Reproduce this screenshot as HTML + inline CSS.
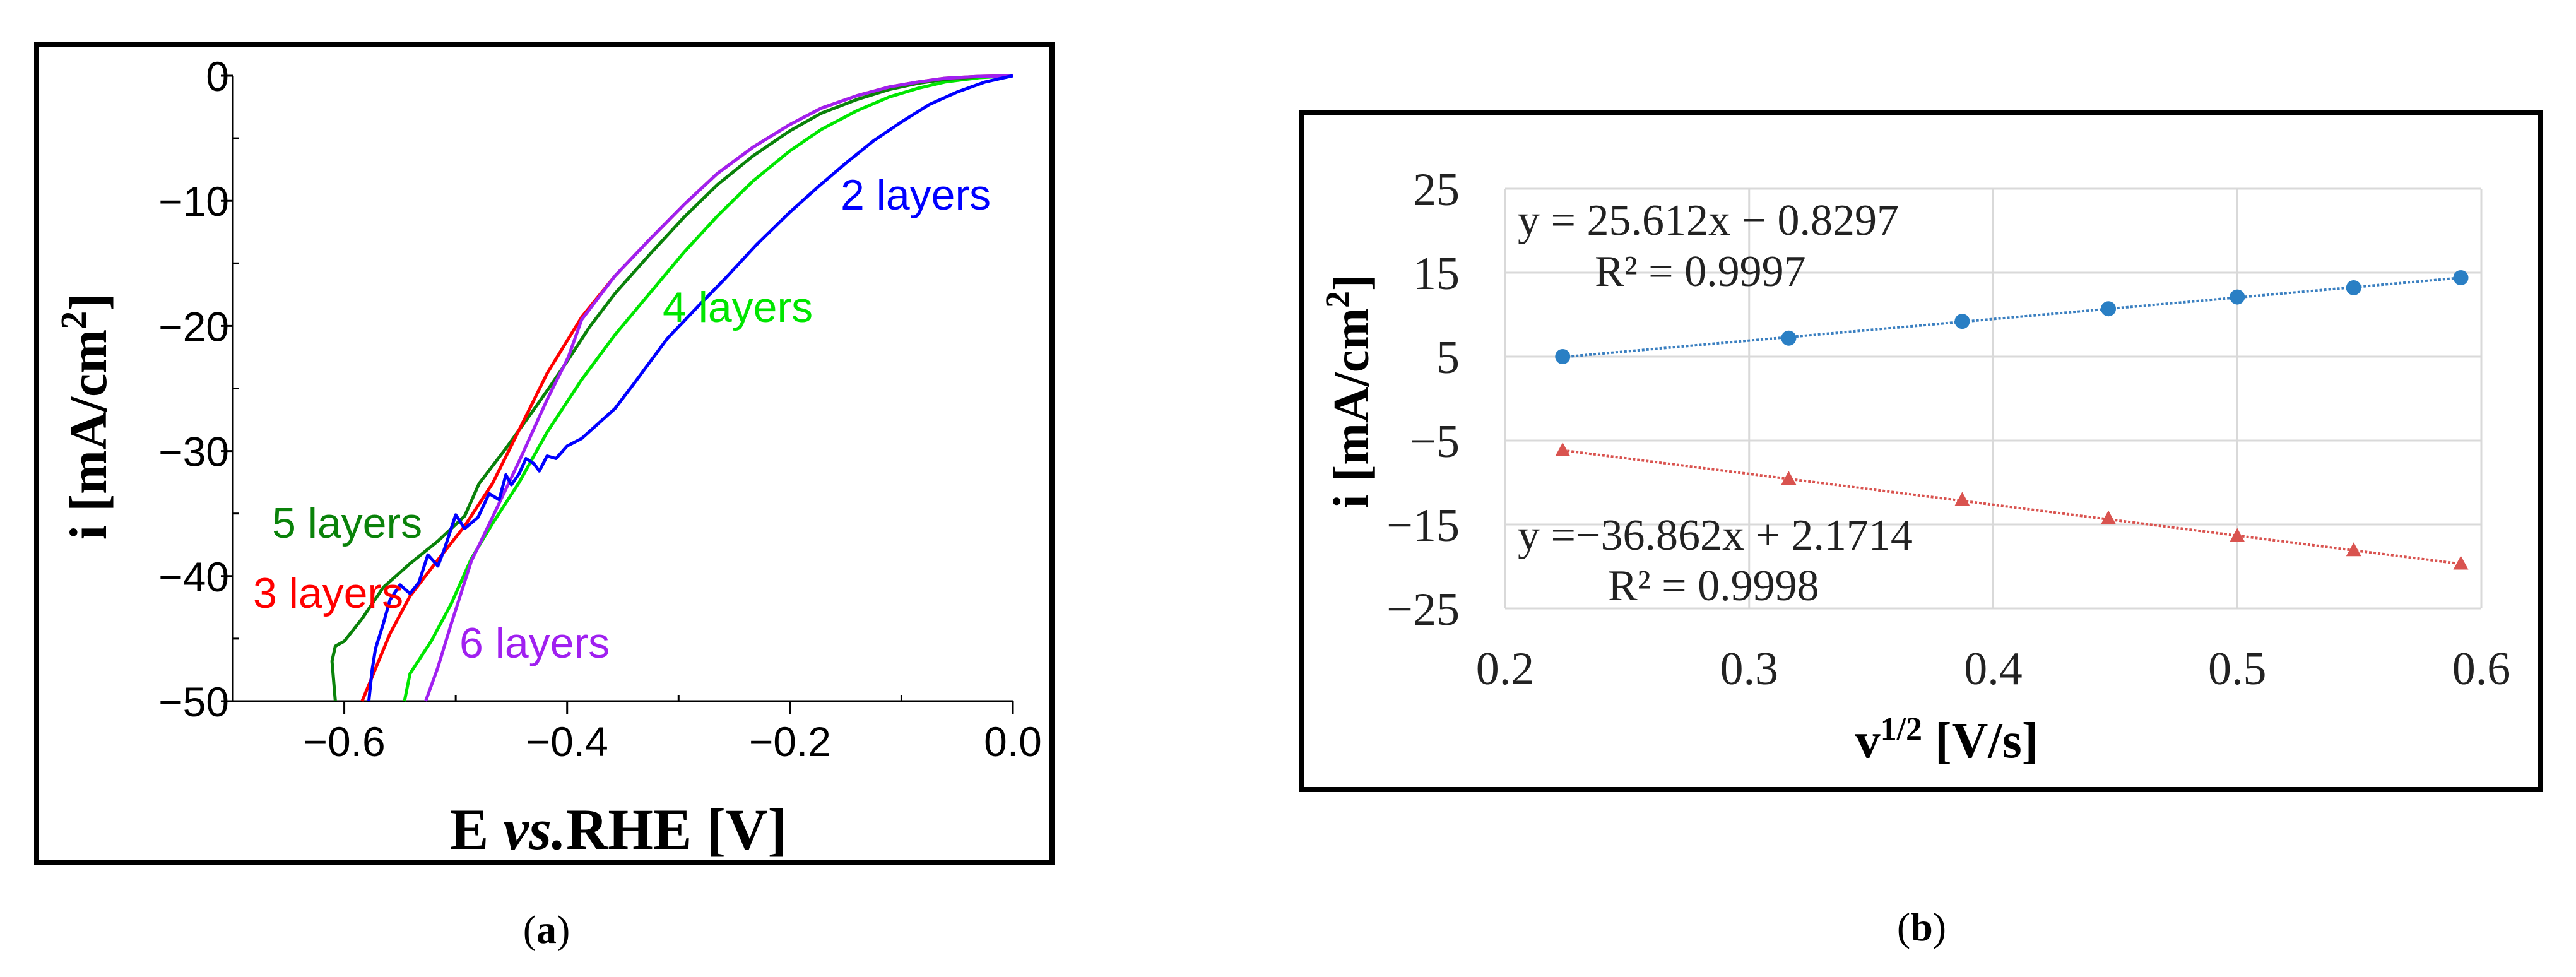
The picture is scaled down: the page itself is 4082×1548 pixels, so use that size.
<!DOCTYPE html>
<html><head><meta charset="utf-8"><style>
html,body{margin:0;padding:0;background:#fff;}
svg{display:block;}
</style></head><body>
<svg id="fig" width="4082" height="1548" viewBox="0 0 4082 1548" xmlns="http://www.w3.org/2000/svg">
<rect x="0" y="0" width="4082" height="1548" fill="#fff"/>
<g id="pa"></g>
<g id="pb"></g>
</svg>
<script>
// ---------- Panel (a) data ----------
const aXTicks = [-0.6, -0.4, -0.2, 0.0];
const aXTickLabels = ["\u22120.6", "\u22120.4", "\u22120.2", "0.0"];
const aYTicks = [0, -10, -20, -30, -40, -50];
const aYTickLabels = ["0", "\u221210", "\u221220", "\u221230", "\u221240", "\u221250"];
const seriesNames = ["2 layers", "3 layers", "4 layers", "5 layers", "6 layers"];
const e2 = [0,-0.025,-0.05,-0.075,-0.1,-0.125,-0.15,-0.175,-0.2,-0.23,-0.258,-0.28,-0.295,-0.31,-0.32,-0.34,-0.357,-0.372,-0.387,-0.40,-0.41,-0.418,-0.425,-0.43,-0.437,-0.443,-0.45,-0.455,-0.461,-0.47,-0.48,-0.492,-0.50,-0.51,-0.516,-0.525,-0.533,-0.541,-0.55,-0.559,-0.565,-0.572,-0.575,-0.578];
const i2 = [0,-0.5,-1.3,-2.3,-3.7,-5.2,-7.0,-8.9,-10.9,-13.5,-16.2,-18.2,-19.6,-21.0,-22.2,-24.6,-26.6,-27.8,-29.0,-29.6,-30.6,-30.4,-31.6,-31.0,-30.6,-31.8,-32.7,-31.9,-33.9,-33.4,-35.3,-36.2,-35.1,-37.8,-39.2,-38.3,-40.5,-41.4,-40.7,-41.9,-43.8,-45.8,-47.5,-50];
const e3 = [0,-0.03,-0.061,-0.085,-0.111,-0.14,-0.172,-0.2,-0.233,-0.265,-0.295,-0.325,-0.357,-0.387,-0.418,-0.443,-0.467,-0.492,-0.516,-0.541,-0.559,-0.572,-0.584];
const i3 = [0,-0.05,-0.2,-0.5,-0.9,-1.6,-2.6,-3.9,-5.7,-7.8,-10.3,-13.0,-16.0,-19.3,-23.8,-28.3,-32.6,-36.0,-38.7,-41.6,-44.6,-47.4,-50];
const e4 = [0,-0.03,-0.061,-0.085,-0.111,-0.14,-0.172,-0.2,-0.233,-0.265,-0.295,-0.325,-0.357,-0.387,-0.418,-0.443,-0.467,-0.486,-0.504,-0.522,-0.541,-0.546];
const i4 = [0,-0.15,-0.5,-1.0,-1.7,-2.8,-4.3,-6.0,-8.4,-11.2,-14.1,-17.3,-20.7,-24.3,-28.5,-32.5,-35.8,-38.6,-42.2,-45.2,-47.8,-50];
const e5 = [0,-0.03,-0.061,-0.085,-0.111,-0.14,-0.172,-0.2,-0.233,-0.265,-0.295,-0.325,-0.357,-0.38,-0.399,-0.415,-0.43,-0.455,-0.479,-0.492,-0.516,-0.541,-0.565,-0.584,-0.6,-0.608,-0.611,-0.608];
const i5 = [0,-0.07,-0.3,-0.6,-1.1,-1.9,-3.0,-4.4,-6.4,-8.7,-11.3,-14.2,-17.4,-20.1,-22.7,-24.8,-26.7,-29.8,-32.6,-35.2,-37.2,-39.0,-40.9,-43.4,-45.2,-45.6,-46.8,-50];
const e6 = [0,-0.03,-0.061,-0.085,-0.111,-0.14,-0.172,-0.2,-0.233,-0.265,-0.295,-0.325,-0.357,-0.387,-0.399,-0.418,-0.443,-0.467,-0.486,-0.504,-0.516,-0.527];
const i6 = [0,-0.05,-0.2,-0.5,-0.9,-1.6,-2.6,-3.9,-5.7,-7.8,-10.3,-13.0,-16.0,-19.5,-22.5,-25.9,-30.8,-35.3,-38.8,-43.8,-47.3,-50];
// ---------- Panel (b) data ----------
const bX = [0.2236, 0.3162, 0.3873, 0.4472, 0.5, 0.5477, 0.5916];
const bAnodic = [5.0, 7.2, 9.2, 10.7, 12.1, 13.2, 14.4];
const bCathodic = [-6.2, -9.6, -12.1, -14.3, -16.4, -18.1, -19.7];
const bXTicks = [0.2, 0.3, 0.4, 0.5, 0.6];
const bXTickLabels = ["0.2", "0.3", "0.4", "0.5", "0.6"];
const bYTicks = [25, 15, 5, -5, -15, -25];
const bYTickLabels = ["25", "15", "5", "\u22125", "\u221215", "\u221225"];

const NS = "http://www.w3.org/2000/svg";
function mk(parent, tag, attrs, text) {
  const el = document.createElementNS(NS, tag);
  for (const k in attrs) el.setAttribute(k, attrs[k]);
  if (text !== undefined) el.textContent = text;
  parent.appendChild(el);
  return el;
}

// ---------- Panel (a) ----------
const pa = document.getElementById('pa');
const axA = v => 369 + (v + 0.7) / 0.7 * (1605 - 369);
const ayA = v => 120 + (-v) / 50 * (1111 - 120);
let fr = mk(pa, 'rect', {x: 58, y: 70, width: 1609, height: 1297, fill: 'none', stroke: '#000', 'stroke-width': 8});


let ax = mk(pa, 'line', {x1: 350, y1: ayA(-50), x2: axA(0), y2: ayA(-50), stroke: '#000', 'stroke-width': 3});


let ay = mk(pa, 'line', {x1: axA(-0.7), y1: ayA(0), x2: axA(-0.7), y2: ayA(-50), stroke: '#000', 'stroke-width': 3});


for (let v = -0.7; v <= 0.001; v += 0.1) {
  const major = Math.round(v * 10) % 2 === 0;
  const x = axA(v);
  const t = mk(pa, 'line', {x1: x, y1: ayA(-50), x2: x, y2: major ? ayA(-50) + 20 : ayA(-50) - 10, stroke: '#000', 'stroke-width': 3});
  
  
}
for (let v = 0; v >= -50; v -= 5) {
  const major = v % 10 === 0;
  const y = ayA(v);
  const x0 = axA(-0.7);
  const t = mk(pa, 'line', {x1: major ? x0 - 19 : x0, y1: y, x2: major ? x0 : x0 + 10, y2: y, stroke: '#000', 'stroke-width': 3});
  
  
}
aXTicks.forEach((v, k) => {
  const t = mk(pa, 'text', {x: axA(v), y: 1198, 'font-family': 'Liberation Sans, sans-serif', 'font-size': 66, 'text-anchor': 'middle'}, aXTickLabels[k]);
  
  
});
aYTicks.forEach((v, k) => {
  const t = mk(pa, 'text', {x: 363, y: ayA(v) + 24, 'font-family': 'Liberation Sans, sans-serif', 'font-size': 66, 'text-anchor': 'end'}, aYTickLabels[k]);
  
  
});
const colorsA = ['#0000ff', '#ff0000', '#00e600', '#0a820a', '#a020f0'];
const dataA = [[e2, i2], [e3, i3], [e4, i4], [e5, i5], [e6, i6]];
const order = [2, 3, 1, 4, 0];
order.forEach(s => {
  const [E, I] = dataA[s];
  const d = E.map((e, k) => (k ? 'L' : 'M') + axA(e).toFixed(1) + ',' + ayA(I[k]).toFixed(1)).join(' ');
  const p = mk(pa, 'path', {d: d, fill: 'none', stroke: colorsA[s], 'stroke-width': 5, 'stroke-linejoin': 'round'});
  
  
});
const labPos = [[1332, 332], [401, 963], [1050, 510], [431, 852], [728, 1042]];
labPos.forEach((pp, s) => {
  const t = mk(pa, 'text', {x: pp[0], y: pp[1], 'font-family': 'Liberation Sans, sans-serif', 'font-size': 68, fill: colorsA[s]}, seriesNames[s]);
  
  
});
let xt = mk(pa, 'text', {x: 980, y: 1345, 'font-family': 'Liberation Serif, serif', 'font-size': 92, 'font-weight': 'bold', 'text-anchor': 'middle'});
xt.innerHTML = 'E <tspan font-style="italic">vs.</tspan>RHE [V]';


let yt = mk(pa, 'text', {x: 0, y: 0, transform: 'translate(168,660) rotate(-90)', 'font-family': 'Liberation Serif, serif', 'font-size': 84, 'font-weight': 'bold', 'text-anchor': 'middle'});
yt.innerHTML = 'i [mA/cm<tspan baseline-shift="super" font-size="58">2</tspan>]';


let ca = mk(pa, 'text', {x: 866, y: 1494, 'font-family': 'Liberation Serif, serif', 'font-size': 64, 'text-anchor': 'middle'});
ca.innerHTML = '(<tspan font-weight="bold">a</tspan>)';



// ---------- Panel (b) ----------
const pb = document.getElementById('pb');
const bxS = v => 2385 + (v - 0.2) / 0.4 * (3932 - 2385);
const byS = v => 299 + (25 - v) / 50 * (964 - 299);
let fb = mk(pb, 'rect', {x: 2063, y: 179, width: 1963, height: 1072, fill: 'none', stroke: '#000', 'stroke-width': 8});


bYTicks.forEach((v, k) => {
  const g = mk(pb, 'line', {x1: bxS(0.2), y1: byS(v), x2: bxS(0.6), y2: byS(v), stroke: '#d9d9d9', 'stroke-width': 3});
  
  
  const t = mk(pb, 'text', {x: 2313, y: byS(v) + 26, 'font-family': 'Liberation Serif, serif', 'font-size': 74, 'text-anchor': 'end', fill: '#222'}, bYTickLabels[k]);
  
  
});
bXTicks.forEach((v, k) => {
  const g = mk(pb, 'line', {x1: bxS(v), y1: byS(25), x2: bxS(v), y2: byS(-25), stroke: '#d9d9d9', 'stroke-width': 3});
  
  
  const t = mk(pb, 'text', {x: bxS(v), y: 1084, 'font-family': 'Liberation Serif, serif', 'font-size': 74, 'text-anchor': 'middle', fill: '#222'}, bXTickLabels[k]);
  
  
});
function fitLine(xs, ys) {
  const n = xs.length, mx = xs.reduce((a, b) => a + b) / n, my = ys.reduce((a, b) => a + b) / n;
  let sxy = 0, sxx = 0;
  xs.forEach((x, k) => { sxy += (x - mx) * (ys[k] - my); sxx += (x - mx) * (x - mx); });
  const m = sxy / sxx; return [m, my - m * mx];
}
[[bAnodic, '#3a7fc0', 'anodic'], [bCathodic, '#d9534f', 'cathodic']].forEach(([ys, col, nm]) => {
  const [m, c] = fitLine(bX, ys);
  const x0 = bX[0], x1 = bX[bX.length - 1];
  const tl = mk(pb, 'line', {x1: bxS(x0), y1: byS(m * x0 + c), x2: bxS(x1), y2: byS(m * x1 + c), stroke: col, 'stroke-width': 4, 'stroke-dasharray': '4 3'});
  
  
  bX.forEach((x, k) => {
    let mkr;
    if (nm === 'anodic') {
      mkr = mk(pb, 'circle', {cx: bxS(x), cy: byS(ys[k]), r: 12, fill: '#2a7fc4'});
    } else {
      const cx = bxS(x), cy = byS(ys[k]);
      mkr = mk(pb, 'polygon', {points: `${cx},${cy - 13} ${cx - 12},${cy + 9} ${cx + 12},${cy + 9}`, fill: '#d9534f'});
    }
    
    
  });
});
const eqs = [['y = 25.612x \u2212 0.8297', 2405, 372], ['R\u00b2 = 0.9997', 2527, 453], ['y =\u221236.862x + 2.1714', 2405, 871], ['R\u00b2 = 0.9998', 2548, 951]];
eqs.forEach(([s, x, y], k) => {
  const t = mk(pb, 'text', {x: x, y: y, 'font-family': 'Liberation Serif, serif', 'font-size': 70, fill: '#222'}, s);
  
  
});
let bxt = mk(pb, 'text', {x: 3085, y: 1200, 'font-family': 'Liberation Serif, serif', 'font-size': 80, 'font-weight': 'bold', 'text-anchor': 'middle'});
bxt.innerHTML = 'v<tspan baseline-shift="super" font-size="52">1/2</tspan> [V/s]';


let byt = mk(pb, 'text', {x: 0, y: 0, transform: 'translate(2168,620) rotate(-90)', 'font-family': 'Liberation Serif, serif', 'font-size': 80, 'font-weight': 'bold', 'text-anchor': 'middle'});
byt.innerHTML = 'i [mA/cm<tspan baseline-shift="super" font-size="54">2</tspan>]';


let cb = mk(pb, 'text', {x: 3045, y: 1490, 'font-family': 'Liberation Serif, serif', 'font-size': 64, 'text-anchor': 'middle'});
cb.innerHTML = '(<tspan font-weight="bold">b</tspan>)';


</script>
</body></html>
